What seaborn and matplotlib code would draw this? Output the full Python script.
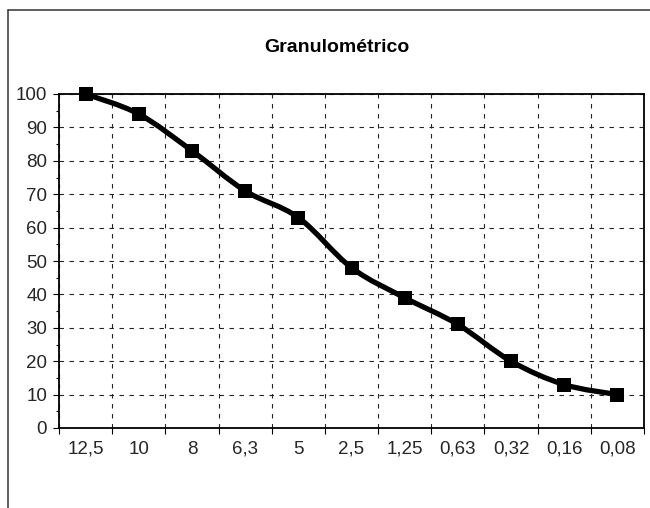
"""
Granulometric curve (Excel-style smoothed line) redrawn with seaborn.
"""

import numpy as np
import matplotlib
matplotlib.use("Agg")
import matplotlib.pyplot as plt
from matplotlib.path import Path
from matplotlib.patches import PathPatch
from matplotlib.lines import Line2D
import seaborn as sns

# data
sieve_labels = ["12,5", "10", "8", "6,3", "5", "2,5", "1,25", "0,63", "0,32", "0,16", "0,08"]
passing = [100, 94, 83, 71, 63, 48, 39, 31, 20, 13, 10]
y_ticks = list(range(0, 101, 10))
title = "Granulométrico"

sns.set_theme(style="white")
plt.rcParams["font.family"] = ["Liberation Sans", "DejaVu Sans"]

W, H = 650, 508
fig = plt.figure(figsize=(W / 100, H / 100), dpi=100)
ax = fig.add_axes([59 / W, 1 - 428 / H, (644 - 59) / W, (428 - 94) / H])

pos = np.arange(len(passing))

# smoothed line: cubic Bezier segments (Excel smoothing, tension 1/6)
pts = np.column_stack([pos, passing]).astype(float)
ext = np.vstack([pts[0], pts, pts[-1]])
verts = [tuple(pts[0])]
codes = [Path.MOVETO]
for i in range(len(pts) - 1):
    p0, p1, p2, p3 = ext[i], ext[i + 1], ext[i + 2], ext[i + 3]
    c1 = p1 + (p2 - p0) / 6
    c2 = p2 - (p3 - p1) / 6
    verts += [tuple(c1), tuple(c2), tuple(p2)]
    codes += [Path.CURVE4] * 3
ax.add_patch(PathPatch(Path(verts, codes), facecolor="none", edgecolor="black",
                       lw=3.8, capstyle="round", joinstyle="round", zorder=3,
                       clip_on=False))

sns.scatterplot(x=pos, y=passing, marker="s", s=115, color="black",
                edgecolor="black", linewidth=0, zorder=4, clip_on=False, ax=ax)

ax.set_xlim(-0.5, len(passing) - 0.5)
ax.set_ylim(0, 100)

# category boundaries as major ticks, labels on minor ticks at centres
ax.set_xticks(np.arange(-0.5, len(passing), 1))
ax.set_xticklabels([])
ax.set_xticks(pos, minor=True)
ax.set_xticklabels(sieve_labels, minor=True)
ax.tick_params(axis="x", which="major", direction="out", length=4, width=0.8,
               color="black", bottom=True)
ax.tick_params(axis="x", which="minor", length=0, pad=9, labelsize=13.5)

ax.set_yticks(y_ticks)
ax.set_yticks(np.arange(5, 100, 10), minor=True)
ax.tick_params(axis="y", which="major", direction="out", length=4.5, width=0.8,
               color="black", left=True, pad=4, labelsize=13.5)
ax.tick_params(axis="y", which="minor", direction="out", length=2.5, width=0.8,
               color="black", left=True)

ax.grid(True, which="major", color="#222222", linestyle=(0, (4, 5)), lw=0.8)
ax.set_axisbelow(True)

for sp in ax.spines.values():
    sp.set_visible(True)
    sp.set_color("black")
    sp.set_linewidth(1.3)

ax.set_xlabel("")
ax.set_ylabel("")

fig.text(337 / W, 1 - 47 / H, title, ha="center", va="center",
         fontsize=14, fontweight="bold", color="black")

# chart-area frame (left and top edges visible)
fig.add_artist(Line2D([7.5 / W, 7.5 / W], [0, 1 - 10 / H], transform=fig.transFigure,
                      color="#333333", lw=1.1))
fig.add_artist(Line2D([7.5 / W, 1], [1 - 10 / H, 1 - 10 / H], transform=fig.transFigure,
                      color="#333333", lw=1.1))

fig.savefig("out.png", dpi=100, facecolor="white")
plt.close(fig)
